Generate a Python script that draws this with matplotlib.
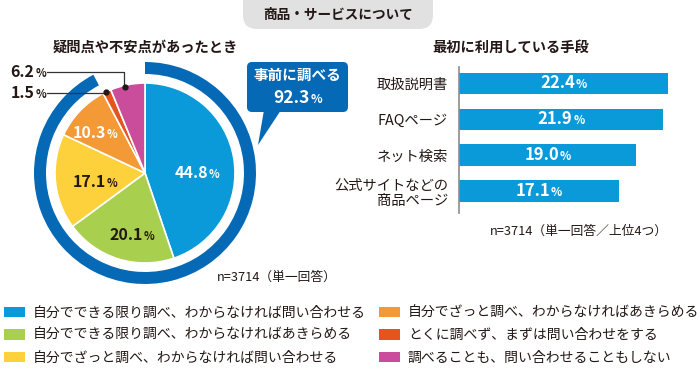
import matplotlib
matplotlib.use("Agg")
import matplotlib.pyplot as plt
from matplotlib.patches import FancyBboxPatch, Polygon
from matplotlib.offsetbox import TextArea, HPacker, AnnotationBbox

plt.rcParams['font.family'] = ['Noto Sans CJK JP', 'DejaVu Sans']

# ---- data ----
pie_labels = ["自分でできる限り調べ、わからなければ問い合わせる",
              "自分でできる限り調べ、わからなければあきらめる",
              "自分でざっと調べ、わからなければ問い合わせる",
              "自分でざっと調べ、わからなければあきらめる",
              "とくに調べず、まずは問い合わせをする",
              "調べることも、問い合わせることもしない"]
pie_values = [44.8, 20.1, 17.1, 10.3, 1.5, 6.2]
pie_colors = ["#0a9ad9", "#a9cf4e", "#fdd13c", "#f39a36", "#e8521f", "#c94d9a"]
pre_check = 92.3

bar_cats = ["取扱説明書", "FAQページ", "ネット検索", "公式サイトなどの\n商品ページ"]
bar_values = [22.4, 21.9, 19.0, 17.1]
bar_color = "#0a9ad9"
ring_color = "#0569b5"

W, H = 700, 369
fig = plt.figure(figsize=(7, 3.69), dpi=100)

def fx(px): return px / W
def fy(py): return 1 - py / H

# ---- pie ----
cx, cy, half = 145, 173, 135
ax = fig.add_axes([fx(cx - half), fy(cy + half), 2 * half / W, 2 * half / H])
wedges, _ = ax.pie(pie_values, radius=90, startangle=90, counterclock=False,
                   colors=pie_colors,
                   wedgeprops=dict(edgecolor="white", linewidth=1.2))
ax.pie([pre_check, 100 - pre_check], radius=111, startangle=90, counterclock=False,
       colors=[ring_color, "none"], wedgeprops=dict(width=12, linewidth=0))
ax.set_xlim(-half, half)
ax.set_ylim(-half, half)
ax.axis("off")

def pct_label(axis, value, xy, color, size=11.5, align=(0.5, 0.5), coords="data"):
    num = TextArea(f"{value:.1f}", textprops=dict(color=color, fontsize=size, fontweight="bold"))
    pc = TextArea("%", textprops=dict(color=color, fontsize=size * 0.7, fontweight="bold"))
    box = HPacker(children=[num, pc], align="baseline", pad=0, sep=0.5)
    ab = AnnotationBbox(box, xy, xycoords=coords, box_alignment=align, frameon=False,
                        pad=0, zorder=10)
    axis.add_artist(ab)

label_pos = [(52, 0), (-13, -62), (-50, -9), (-50, 40)]
label_col = ["white", "#231815", "#231815", "white"]
for v, p, c in zip(pie_values[:4], label_pos, label_col):
    pct_label(ax, v, p, c)

# small slices: leader lines
dot_pts = [(-39, 81), (-20, 86)]   # 1.5, 6.2
ax.plot([-98, -39], [80, 80], color="#333333", lw=0.9, clip_on=False)
ax.plot([-98, -21, -21], [101, 101, 86], color="#333333", lw=0.9, clip_on=False)
for p in dot_pts:
    ax.plot(*p, "o", color="#231815", ms=3.5, clip_on=False)
pct_label(ax, pie_values[4], (-99, 80), "#231815", size=11.5, align=(1, 0.5))
pct_label(ax, pie_values[5], (-99, 101), "#231815", size=11.5, align=(1, 0.5))

# ---- overlay for decorations ----
ov = fig.add_axes([0, 0, 1, 1], zorder=5)
ov.set_xlim(0, W)
ov.set_ylim(H, 0)
ov.axis("off")

ov.add_patch(FancyBboxPatch((243, -12), 190, 41, boxstyle="round,pad=0,rounding_size=14",
                            fc="#e1e1e1", ec="none"))
ov.text(338, 15, "商品・サービスについて", ha="center", va="center", fontsize=9.8,
        fontweight="bold", color="#231815")

ov.text(145, 48, "疑問点や不安点があったとき", ha="center", va="center", fontsize=10.3,
        fontweight="bold", color="#231815")
ov.text(511, 48, "最初に利用している手段", ha="center", va="center", fontsize=10.3,
        fontweight="bold", color="#231815")

# callout
ov.add_patch(FancyBboxPatch((247, 62), 101, 50, boxstyle="round,pad=0,rounding_size=5",
                            fc=ring_color, ec="none"))
ov.add_patch(Polygon([(264, 110), (281, 110), (258, 145)], closed=True, fc=ring_color, ec="none"))
ov.text(297.5, 75, "事前に調べる", ha="center", va="center", fontsize=10.5,
        fontweight="bold", color="white")
pct_label(ov, pre_check, (297.5, 98), "white", size=12.5)

ov.text(277, 277, "n=3714（単一回答）", ha="center", va="center", fontsize=9.2, color="#231815")
ov.text(579, 231, "n=3714（単一回答／上位4つ）", ha="center", va="center", fontsize=9.2,
        color="#231815")

# ---- bars ----
top_px, bot_px, left_px, right_px = 67, 213, 459, 690
bx = fig.add_axes([fx(left_px), fy(bot_px), (right_px - left_px) / W, (bot_px - top_px) / H])
ys = list(range(len(bar_cats)))
bx.barh(ys, bar_values, height=0.6, color=bar_color)
bx.set_xlim(0, (right_px - left_px) / 9.33)
bx.set_ylim(3 + 22 / 36, -16.5 / 36)
for s in ["top", "right", "bottom"]:
    bx.spines[s].set_visible(False)
bx.spines["left"].set_color("#8c8c8c")
bx.spines["left"].set_linewidth(1.2)
bx.set_xticks([])
bx.set_yticks(ys)
bx.set_yticklabels(bar_cats, fontsize=10.3, color="#231815", linespacing=1.1)
bx.tick_params(axis="y", length=0, pad=8)
for y, v in zip(ys, bar_values):
    pct_label(bx, v, (v / 2, y), "white", size=12)

# ---- legend ----
leg = fig.legend(wedges, pie_labels, ncol=2, loc="upper left",
                 bbox_to_anchor=(fx(4), fy(306)), frameon=False, fontsize=10,
                 handlelength=1.5, handleheight=0.8, handletextpad=0.55,
                 labelspacing=0.6, columnspacing=1.0, borderpad=0, borderaxespad=0)
for h in leg.legend_handles:
    h.set_edgecolor("none")
for t in leg.get_texts():
    t.set_color("#231815")

fig.savefig("out.png", dpi=100)
